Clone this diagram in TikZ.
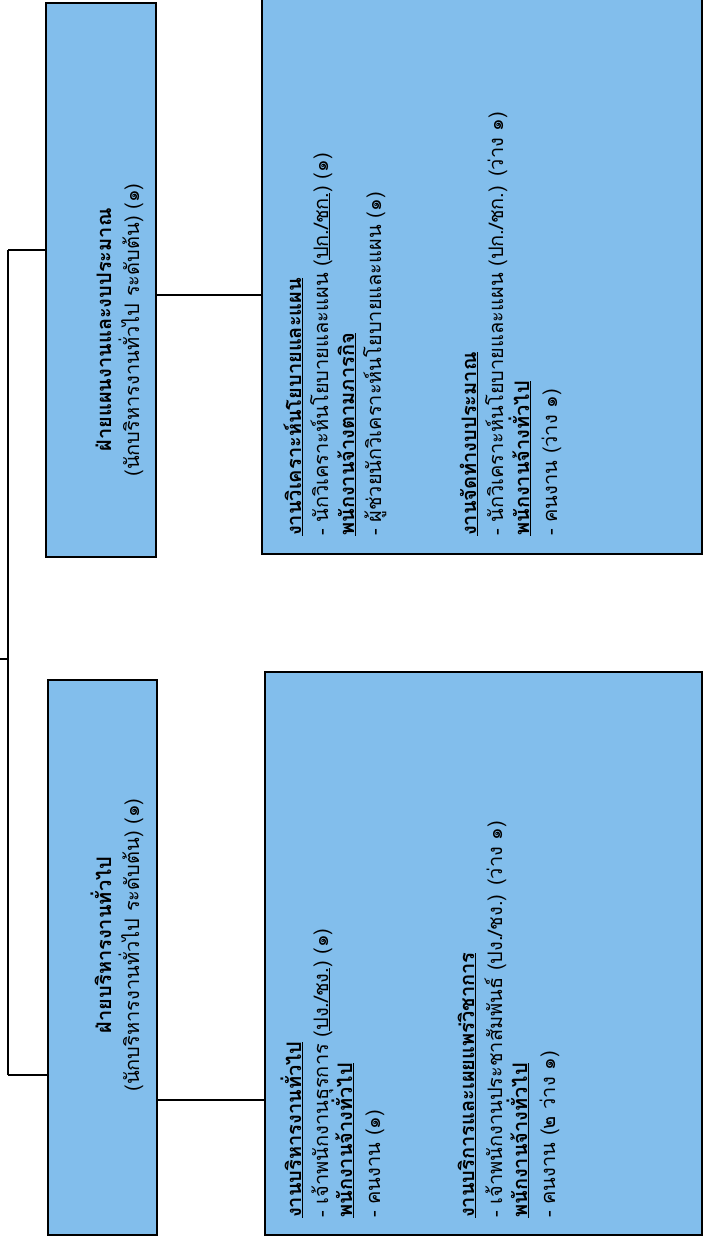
\documentclass[tikz,border=0pt]{standalone}
\usepackage{fontspec}
\setmainfont[Script=Thai]{Loma}
\definecolor{boxblue}{RGB}{130,190,236}
\begin{document}
\begin{tikzpicture}[x=1pt,y=-1pt,
  box/.style={draw=black,line width=2.2pt,fill=boxblue,inner sep=0pt},
  conn/.style={line width=1.8pt},
  txt/.style={rotate=90,anchor=base west,inner sep=0pt,font=\fontsize{20}{24}\selectfont},
  hd/.style={rotate=90,anchor=base,inner sep=0pt,font=\fontsize{20}{24}\selectfont}]
\useasboundingbox (0,0) rectangle (709,1247);
\fill[white] (0,0) rectangle (709,1247);
% boxes
\node[box,minimum width=110pt,minimum height=554pt] (topbox) at (101,280) {};
\node[box,minimum width=109pt,minimum height=555pt] (botbox) at (102.5,957.5) {};
\node[box,minimum width=440pt,minimum height=556pt] (trbox) at (482,276) {};
\node[box,minimum width=437pt,minimum height=563pt] (brbox) at (483.5,953.5) {};
% connectors
\coordinate (stub) at (0,659);
\coordinate (ja) at (8,250);
\coordinate (jb) at (8,1075);
\coordinate (jm) at (8,659);
\coordinate (ca) at (0,295);
\coordinate (cb) at (0,1100);
\draw[conn] (ja) -- (jb);
\draw[conn] (stub) -- (jm);
\draw[conn] (ja) -- (ja -| topbox.west);
\draw[conn] (jb) -- (jb -| botbox.west);
\draw[conn] (ca -| topbox.east) -- (ca -| trbox.west);
\draw[conn] (cb -| botbox.east) -- (cb -| brbox.west);
% headers
\node[hd] (h1a) at (111,330) {\textbf{ฝ่ายแผนงานและงบประมาณ}};
\node[hd] (h1b) at (139,330) {(นักบริหารงานทั่วไป ระดับต้น) (๑)};
\node[hd] (h2a) at (111,945) {\textbf{ฝ่ายบริหารงานทั่วไป}};
\node[hd] (h2b) at (139,945) {(นักบริหารงานทั่วไป ระดับต้น) (๑)};
% top right box text
\node[txt] (t1) at (301,536) {\textbf{\underline{งานวิเคราะห์นโยบายและแผน}}};
\node[txt] (t2) at (328,536) {- นักวิเคราะห์นโยบายและแผน (\underline{ปก./ชก.}) (๑)};
\node[txt] (t3) at (354,536) {\textbf{\underline{พนักงานจ้างตามภารกิจ}}};
\node[txt] (t4) at (381,536) {- ผู้ช่วยนักวิเคราะห์นโยบายและแผน (๑)};
\node[txt] (t5) at (476,536) {\textbf{\underline{งานจัดทำงบประมาณ}}};
\node[txt] (t6) at (503,536) {- นักวิเคราะห์นโยบายและแผน (ปก./ชก.) (ว่าง ๑)};
\node[txt] (t7) at (529,536) {\textbf{\underline{พนักงานจ้างทั่วไป}}};
\node[txt] (t8) at (557,536) {- คนงาน (ว่าง ๑)};
% bottom right box text
\node[txt] (b1) at (301,1218) {\textbf{\underline{งานบริหารงานทั่วไป}}};
\node[txt] (b2) at (328,1218) {- เจ้าพนักงานธุรการ (\underline{ปง./ชง.}) (๑)};
\node[txt] (b3) at (352,1218) {\textbf{\underline{พนักงานจ้างทั่วไป}}};
\node[txt] (b4) at (380,1218) {- คนงาน (๑)};
\node[txt] (b5) at (474,1218) {\textbf{\underline{งานบริการและเผยแพร่วิชาการ}}};
\node[txt] (b6) at (502,1218) {- เจ้าพนักงานประชาสัมพันธ์ (ปง./ชง.) (ว่าง ๑)};
\node[txt] (b7) at (527,1218) {\textbf{\underline{พนักงานจ้างทั่วไป}}};
\node[txt] (b8) at (555,1218) {- คนงาน (๒ ว่าง ๑)};
\end{tikzpicture}
\end{document}
